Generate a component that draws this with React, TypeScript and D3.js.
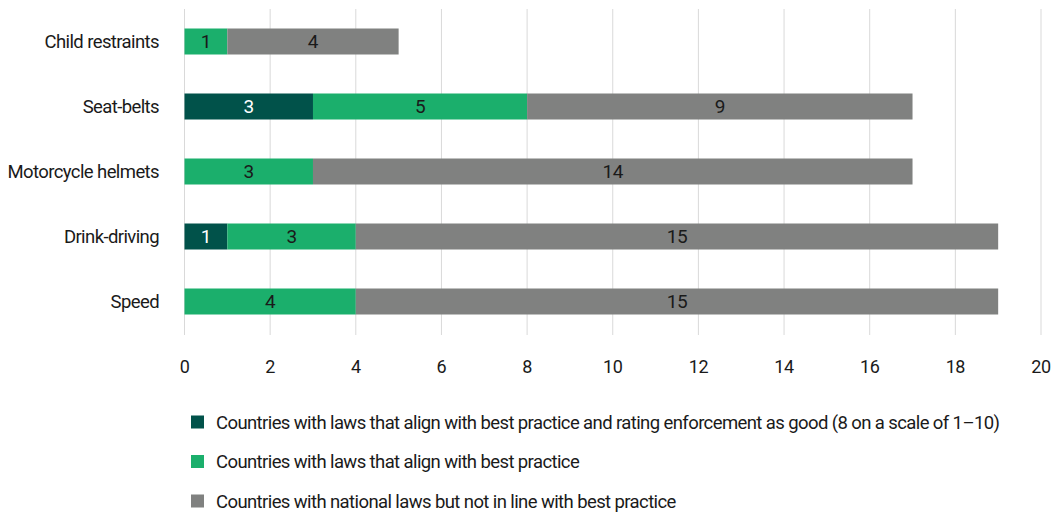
import React from "react";
import * as d3 from "d3";

const categories = ["Child restraints", "Seat-belts", "Motorcycle helmets", "Drink-driving", "Speed"];
const goodEnforcement = [0, 3, 0, 1, 0];
const bestPractice = [1, 5, 3, 3, 4];
const notInLine = [4, 9, 14, 15, 15];
const seriesNames = [
  "Countries with laws that align with best practice and rating enforcement as good (8 on a scale of 1–10)",
  "Countries with laws that align with best practice",
  "Countries with national laws but not in line with best practice",
];
const xTicks = [0, 2, 4, 6, 8, 10, 12, 14, 16, 18, 20];

const colors = ["#01524a", "#1baf6c", "#808180"];
const textColors = ["#ffffff", "#1a1a1a", "#1a1a1a"];
const FONT = "Roboto, 'Noto Sans', sans-serif";

export default function App() {
  const width = 1058;
  const height = 513;
  const x = d3.scaleLinear().domain([0, 20]).range([184.5, 1041]);
  const y = d3.scaleBand().domain(categories).range([9, 334]).paddingInner(0.6).paddingOuter(0.3);
  const series = [goodEnforcement, bestPractice, notInLine];
  const rows = categories.map((c, i) => ({ cat: c, v: series.map((s) => s[i]) }));
  const stack = d3.stack<any>().keys(["0", "1", "2"]).value((d: any, k: string) => d.v[+k]);
  const stacked = stack(rows);

  return (
    <svg width={width} height={height} style={{ position: "absolute", left: 0, top: 0 }} fontFamily={FONT}>
      <rect width={width} height={height} fill="#ffffff" />
      {xTicks.map((t) => (
        <g key={t}>
          <line x1={x(t)} x2={x(t)} y1={9} y2={335} stroke="#d9d9d9" strokeWidth={1} />
          <text x={x(t)} y={373} textAnchor="middle" fontSize={18} letterSpacing={-0.4} fill="#1a1a1a">{t}</text>
        </g>
      ))}
      {stacked.map((layer, si) =>
        layer.map((d, i) => {
          const val = d[1] - d[0];
          if (val <= 0) return null;
          const cat = categories[i];
          const x0 = x(d[0]);
          const x1 = x(d[1]);
          const yy = y(cat)!;
          return (
            <g key={si + "-" + i}>
              <rect x={x0} y={yy} width={x1 - x0} height={y.bandwidth()} fill={colors[si]} />
              <text x={(x0 + x1) / 2} y={yy + y.bandwidth() / 2} dy="0.36em" textAnchor="middle" fontSize={19} letterSpacing={-0.4} fill={textColors[si]}>
                {val}
              </text>
            </g>
          );
        })
      )}
      {categories.map((c) => (
        <text key={c} x={159} y={y(c)! + y.bandwidth() / 2} dy="0.36em" textAnchor="end" fontSize={18.5} letterSpacing={-0.6} fill="#1a1a1a">
          {c}
        </text>
      ))}
      {seriesNames.map((n, i) => (
        <g key={n} transform={`translate(191, ${422 + i * 39.5})`}>
          <rect x={0} y={-6.5} width={13} height={13} fill={colors[i]} />
          <text x={25} y={0} dy="0.36em" fontSize={18.5} letterSpacing={-0.6} fill="#1a1a1a">{n}</text>
        </g>
      ))}
    </svg>
  );
}
